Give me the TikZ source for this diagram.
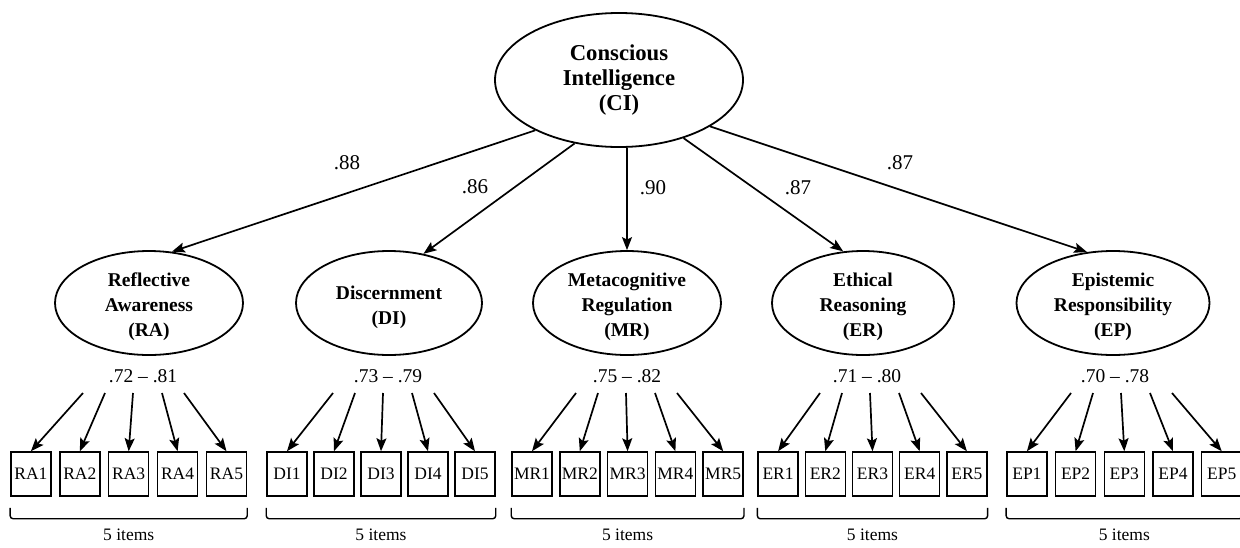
\documentclass[tikz,border=0pt]{standalone}
\usepackage{fontspec}
\setmainfont{Liberation Serif}
\usetikzlibrary{arrows.meta,shapes.geometric}
\begin{document}
\begin{tikzpicture}[x=1pt,y=-1pt,
  lat/.style={ellipse,draw,line width=1.8pt,inner sep=0pt,minimum height=104pt},
  lattext/.style={align=center,font=\fontsize{19.5}{25}\selectfont\bfseries,inner sep=0pt},
  itembox/.style={draw,line width=1.5pt,minimum width=40pt,minimum height=44pt,inner sep=0pt,font=\fontsize{17.5}{20}\selectfont},
  arr/.style={-{Stealth[length=13pt,width=10pt,inset=2.5pt]},line width=1.7pt},
  coef/.style={font=\fontsize{21}{24}\selectfont,inner sep=0pt},
  rng/.style={font=\fontsize{19.5}{22}\selectfont,inner sep=0pt},
  cnt/.style={font=\fontsize{17.5}{20}\selectfont,inner sep=0pt},
  brk/.style={line width=1.4pt,rounded corners=3pt}
]
\useasboundingbox[fill=white] (0,0) rectangle (1240,547);

% top latent
\node[ellipse,draw,line width=1.8pt,inner sep=0pt,minimum width=248pt,minimum height=134pt] (CI) at (619,80) {};
\node[align=center,font=\fontsize{22.7}{25}\selectfont\bfseries,inner sep=0pt] (CIt) at (619,80) {Conscious\\Intelligence\\(CI)};

% second-order latents
\node[lat,minimum width=188pt] (RA) at (149,303) {};
\node[lat,minimum width=186pt] (DI) at (389,303) {};
\node[lat,minimum width=188pt] (MR) at (627,303) {};
\node[lat,minimum width=182pt] (ER) at (863,303) {};
\node[lat,minimum width=193pt] (EP) at (1113,303) {};
\node[lattext] (RAt) at (149,307) {Reflective\\Awareness\\(RA)};
\node[lattext] (DIt) at (389,307) {Discernment\\(DI)};
\node[lattext] (MRt) at (627,307) {Metacognitive\\Regulation\\(MR)};
\node[lattext] (ERt) at (863,307) {Ethical\\Reasoning\\(ER)};
\node[lattext] (EPt) at (1113,307) {Epistemic\\Responsibility\\(EP)};

% structural paths
\draw[arr] (CI.211.9) -- (RA.66);
\draw[arr] (CI.235.9) -- (DI.55);
\draw[arr] (MR.north |- CI.south) -- (MR.north);
\draw[arr] (CI.318) -- (ER.111.6);
\draw[arr] (CI.333) -- (EP.117);
\node[coef] (c1) at (347,163) {.88};
\node[coef] (c2) at (475,187) {.86};
\node[coef] (c3) at (653,188) {.90};
\node[coef] (c4) at (798,188) {.87};
\node[coef] (c5) at (900,163) {.87};

% loading ranges
\node[rng] (RAr) at (143,376) {.72 -- .81};
\node[rng] (DIr) at (388,376) {.73 -- .79};
\node[rng] (MRr) at (627,376) {.75 -- .82};
\node[rng] (ERr) at (867,376) {.71 -- .80};
\node[rng] (EPr) at (1115,376) {.70 -- .78};

% items
\foreach \g/\gc/\p/\sc in {RA/128.7/48.9/133, DI/381/47/383, MR/627.6/47.8/626, ER/872.5/47.2/870, EP/1124.3/48.7/1121}{
  \foreach \i/\o in {1/-50,2/-28,3/0,4/29,5/51}{
    \node[itembox] (\g\i) at ({\gc+(\i-3)*\p},474) {\g\i};
    \coordinate (\g s\i) at ({\sc+\o},393);
    \draw[arr] (\g s\i) -- (\g\i.north);
  }
  \draw[brk] ([yshift=-11pt]\g1.south west) -- ([yshift=-22pt]\g1.south west) -- ([yshift=-22pt]\g5.south east) -- ([yshift=-11pt]\g5.south east);
  \node[cnt] (\g cnt) at (\gc,535) {5 items};
}
\end{tikzpicture}
\end{document}
